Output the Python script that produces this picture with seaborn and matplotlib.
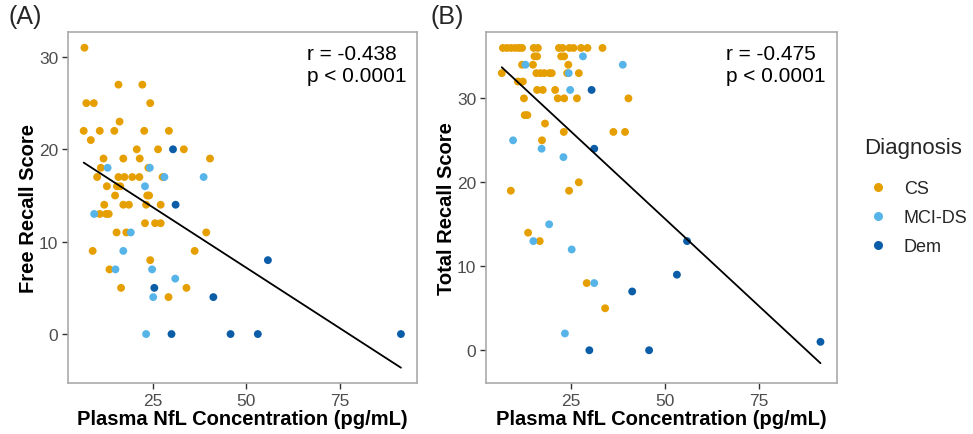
import matplotlib
matplotlib.use("Agg")
import matplotlib.pyplot as plt
import seaborn as sns
import pandas as pd
from matplotlib.lines import Line2D

# ---------------- data ----------------
groups = ["CS", "MCI-DS", "Dem"]
colors = ["#E69F00", "#56B4E9", "#0B5DA8"]

# Panel A: Free Recall Score
a_cs_nfl = [6.7, 15.8, 22.2, 7.2, 9.2, 24.3, 16.1, 6.5, 10.8, 14.7, 22.7, 29.3, 8.4,
            20.7, 26.4, 33.3, 11.8, 17.1, 21.5, 40.3, 11.1, 23.8, 10.1, 15.8, 17.4,
            19.5, 21.4, 27.6, 12.7, 15.4, 16.3, 14.9, 23.5, 24.0, 12.0, 17.1, 18.6,
            23.2, 27.1, 10.8, 12.5, 13.2, 22.9, 25.6, 27.1, 15.3, 17.9, 39.3, 8.9,
            36.2, 24.3, 13.4, 16.5, 34.0, 29.2]
a_cs_score = [31, 27, 27, 25, 25, 25, 23, 22, 22, 22, 22, 22, 21,
              20, 20, 20, 19, 19, 19, 19, 18, 18, 17, 17, 17,
              17, 17, 17, 16, 16, 16, 15, 15, 15, 14, 14, 14,
              14, 14, 13, 13, 13, 12, 12, 12, 11, 11, 11, 9,
              9, 8, 7, 5, 5, 4]
a_mci_nfl = [12.9, 24.2, 28.1, 38.6, 22.9, 9.3, 19.1, 17.1, 15.0, 24.8, 31.0, 25.1, 23.2]
a_mci_score = [18, 18, 17, 17, 16, 13, 11, 9, 7, 7, 6, 4, 0]
a_dem_nfl = [30.4, 31.1, 55.8, 25.4, 41.2, 30.0, 45.8, 53.1, 91.4]
a_dem_score = [20, 14, 8, 5, 4, 0, 0, 0, 0]

# Panel B: Total Recall Score
b_cs_nfl = [6.8, 7.9, 9.0, 10.1, 11.1, 11.9, 15.0, 16.1, 21.7, 22.7, 24.5, 25.6, 27.6,
            29.3, 33.3, 15.2, 15.9, 22.3, 23.1, 11.9, 14.8, 24.2, 6.5, 15.7, 16.8,
            17.8, 19.2, 19.8, 23.9, 27.0, 10.8, 12.1, 15.9, 17.4, 20.7, 12.4, 21.4,
            23.1, 26.5, 40.2, 12.6, 13.3, 18.0, 23.0, 36.2, 39.3, 17.2, 27.0, 8.9,
            24.4, 13.5, 16.6, 29.1, 34.0]
b_cs_score = [36, 36, 36, 36, 36, 36, 36, 36, 36, 36, 36, 36, 36,
              36, 36, 35, 35, 35, 35, 34, 34, 34, 33, 33, 33,
              33, 33, 33, 33, 33, 32, 32, 31, 31, 31, 30, 30,
              30, 30, 30, 28, 28, 27, 26, 26, 26, 25, 20, 19,
              19, 14, 13, 8, 5]
b_mci_nfl = [28.1, 12.8, 38.7, 24.3, 24.7, 9.5, 17.1, 22.9, 19.1, 14.9, 25.1, 31.1, 23.3]
b_mci_score = [35, 34, 34, 33, 31, 25, 24, 23, 15, 13, 12, 8, 2]
b_dem_nfl = [30.4, 31.1, 55.8, 53.1, 41.2, 45.7, 91.3, 29.8]
b_dem_score = [31, 24, 13, 9, 7, 0, 1, 0]

stats_a = "r = -0.438\np < 0.0001"
stats_b = "r = -0.475\np < 0.0001"
xlabel = "Plasma NfL Concentration (pg/mL)"
ylabel_a = "Free Recall Score"
ylabel_b = "Total Recall Score"


def make_df(cs_x, cs_y, mci_x, mci_y, dem_x, dem_y):
    return pd.DataFrame({
        "nfl": cs_x + mci_x + dem_x,
        "score": cs_y + mci_y + dem_y,
        "Diagnosis": ["CS"] * len(cs_x) + ["MCI-DS"] * len(mci_x) + ["Dem"] * len(dem_x),
    })


df_a = make_df(a_cs_nfl, a_cs_score, a_mci_nfl, a_mci_score, a_dem_nfl, a_dem_score)
df_b = make_df(b_cs_nfl, b_cs_score, b_mci_nfl, b_mci_score, b_dem_nfl, b_dem_score)

# ---------------- style ----------------
sns.set_theme(style="white")
plt.rcParams["font.family"] = ["Liberation Sans", "DejaVu Sans"]
palette = dict(zip(groups, colors))

fig = plt.figure(figsize=(9.73, 4.35), dpi=100)
W, H = 973, 435
ax_a = fig.add_axes([68 / W, (H - 384) / H, 349 / W, 351 / H])
ax_b = fig.add_axes([486 / W, (H - 384) / H, 351 / W, 351 / H])


def draw(ax, df, ylabel, stats, ylim, yticks):
    sns.scatterplot(data=df, x="nfl", y="score", hue="Diagnosis", hue_order=groups,
                    palette=palette, s=32, linewidth=0, ax=ax, legend=False, zorder=2)
    sns.regplot(data=df, x="nfl", y="score", scatter=False, ci=None, ax=ax,
                line_kws=dict(color="black", lw=1.3, zorder=3))
    ax.set_xlim(2.3, 95.7)
    ax.set_ylim(*ylim)
    ax.set_xticks([25, 50, 75])
    ax.set_yticks(yticks)
    ax.set_xlabel(xlabel, fontsize=14.5, fontweight="bold", color="black", labelpad=1)
    ax.set_ylabel(ylabel, fontsize=14.5, fontweight="bold", color="black", labelpad=1)
    ax.tick_params(axis="both", which="both", length=4, width=1, color="#333333",
                   labelsize=12.5, labelcolor="#4D4D4D", pad=3,
                   bottom=True, left=True)
    for sp in ax.spines.values():
        sp.set_color("#AAAAAA")
        sp.set_linewidth(1.2)
    ax.text(0.685, 0.965, stats, transform=ax.transAxes, ha="left", va="top",
            fontsize=15, color="black", linespacing=1.2)


draw(ax_a, df_a, ylabel_a, stats_a, (-5.3, 32.7), [0, 10, 20, 30])
draw(ax_b, df_b, ylabel_b, stats_b, (-3.9, 37.9), [0, 10, 20, 30])

fig.text(8 / W, 1 - 5 / H, "(A)", fontsize=18, ha="left", va="top")
fig.text(430 / W, 1 - 5 / H, "(B)", fontsize=18, ha="left", va="top")

handles = [Line2D([0], [0], marker="o", linestyle="", markersize=6.5,
                  markerfacecolor=c, markeredgewidth=0) for c in colors]
leg = fig.legend(handles, groups, title="Diagnosis", loc="upper left",
                 bbox_to_anchor=(864 / W, 1 - 138 / H), frameon=False,
                 fontsize=13, title_fontsize=16, alignment="left",
                 handlelength=1.6, handletextpad=0.6, labelspacing=0.66,
                 borderaxespad=0, borderpad=0)
leg._legend_box.sep = 16

fig.savefig("out.png", dpi=100)
